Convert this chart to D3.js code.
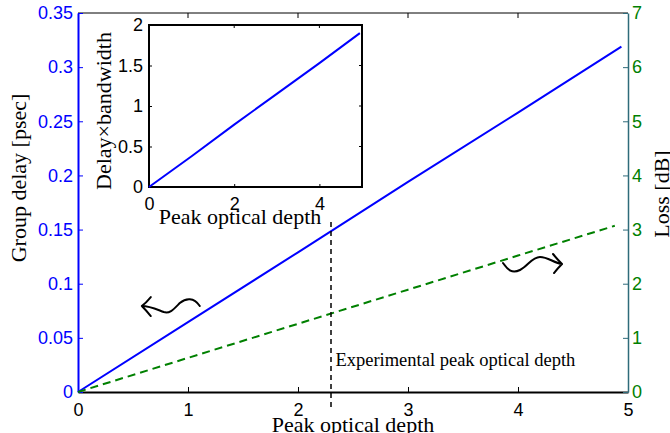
<!DOCTYPE html>
<html>
<head>
<meta charset="utf-8">
<script src="https://cdn.jsdelivr.net/npm/d3@7"></script>
<style>
  body { margin: 0; background: #fff; }
  .tick text { font-family: "Liberation Sans", Arial, sans-serif; font-size: 18px; }
  .lab { font-family: "Liberation Serif", "Times New Roman", serif; font-size: 22px; fill: #000; }
</style>
</head>
<body>
<div id="chart"></div>
<script>
// main curves
const depth = [0, 1, 2, 3, 4, 4.94];
const delay = [0, 0.0645, 0.129, 0.194, 0.258, 0.319];
const lossDepth = [0, 1, 2, 3, 4, 4.88];
const loss = [0, 0.63, 1.26, 1.89, 2.52, 3.07];

// inset
const insetDepth = [0, 1, 2, 3, 4, 4.95];
const insetDB = [0, 0.38, 0.77, 1.15, 1.53, 1.9];

// ticks
const xTicks = [0, 1, 2, 3, 4, 5];
const delayTicks = [0, 0.05, 0.1, 0.15, 0.2, 0.25, 0.3, 0.35];
const lossTicks = [0, 1, 2, 3, 4, 5, 6, 7];
const insetXTicks = [0, 2, 4];
const insetYTicks = [0, 0.5, 1, 1.5, 2];

const expDepth = 2.3;

const W = 670, H = 433;
const svg = d3.select("#chart").append("svg")
  .attr("width", W).attr("height", H);

const x = d3.scaleLinear().domain([0, 5]).range([78, 628]);
const y = d3.scaleLinear().domain([0, 0.35]).range([392, 13]);
const yR = d3.scaleLinear().domain([0, 7]).range([392, 13]);

const blue = "#0000ff", green = "#008000", teal = "#2e6b7a";

// top border
svg.append("line").attr("x1", x(0)).attr("x2", x(5)).attr("y1", y(0.35)).attr("y2", y(0.35))
  .attr("stroke", "#000").attr("stroke-width", 1);
svg.append("g").selectAll("line").data(xTicks.slice(1, -1)).enter().append("line")
  .attr("x1", d => x(d)).attr("x2", d => x(d)).attr("y1", y(0.35)).attr("y2", y(0.35) + 5)
  .attr("stroke", "#000");

// bottom axis
const gx = svg.append("g").attr("transform", "translate(0," + y(0) + ")")
  .call(d3.axisBottom(x).tickValues(xTicks).tickFormat(d => d).tickSizeInner(-5).tickSizeOuter(0).tickPadding(11));
gx.select(".domain").attr("stroke", "#000").attr("stroke-width", 2);
gx.selectAll(".tick line").attr("stroke", "#000");
gx.selectAll(".tick text").attr("fill", "#000");

// left axis
const gy = svg.append("g").attr("transform", "translate(" + x(0) + ",0)")
  .call(d3.axisLeft(y).tickValues(delayTicks).tickFormat(d => String(d)).tickSizeInner(-5).tickSizeOuter(0).tickPadding(5));
gy.select(".domain").attr("stroke", blue).attr("stroke-width", 2);
gy.selectAll(".tick line").attr("stroke", blue);
gy.selectAll(".tick text").attr("fill", blue);

// right axis
const gr = svg.append("g").attr("transform", "translate(" + x(5) + ",0)")
  .call(d3.axisRight(yR).tickValues(lossTicks).tickFormat(d => d).tickSizeInner(-5).tickSizeOuter(0).tickPadding(4));
gr.select(".domain").attr("stroke", teal).attr("stroke-width", 1.5);
gr.selectAll(".tick line").attr("stroke", teal);
gr.selectAll(".tick text").attr("fill", green);

// curves
const lineDelay = d3.line().x((d, i) => x(depth[i])).y(d => y(d));
svg.append("path").datum(delay).attr("d", lineDelay)
  .attr("fill", "none").attr("stroke", blue).attr("stroke-width", 2);

const lineLoss = d3.line().x((d, i) => x(lossDepth[i])).y(d => yR(d));
svg.append("path").datum(loss).attr("d", lineLoss)
  .attr("fill", "none").attr("stroke", green).attr("stroke-width", 2)
  .attr("stroke-dasharray", "8,5");

// experimental depth marker
svg.append("line").attr("x1", x(expDepth)).attr("x2", x(expDepth))
  .attr("y1", y(0.157)).attr("y2", y(-0.015))
  .attr("stroke", "#000").attr("stroke-width", 1.5).attr("stroke-dasharray", "5,4");
svg.append("text").attr("class", "lab").style("font-size", "18.5px")
  .attr("x", x(2.34)).attr("y", y(0.024))
  .text("Experimental peak optical depth");

// wavy arrows
function wavy(px, py, d) {
  svg.append("path").attr("transform", "translate(" + px + "," + py + ")")
    .attr("d", d).attr("fill", "none").attr("stroke", "#000")
    .attr("stroke-width", 2).attr("stroke-linecap", "round").attr("stroke-linejoin", "round");
}
wavy(x(0.58), y(0.0794),
  "M58,0 C52,-9 44,-8 38,-3 C32,3 28,8 22,6 C14,3 8,0 0,0 M9,-9 Q4,-3 0,0 Q4,4 9,10");
wavy(x(4.4), y(0.1182),
  "M-59,-1 C-54,6 -50,10 -42,6 C-34,2 -30,-7 -22,-7 C-14,-7 -8,-1 0,0 M-9,-10 Q-4,-4 0,0 Q-4,4 -8,9");

// axis labels
svg.append("text").attr("class", "lab").attr("text-anchor", "middle")
  .attr("transform", "translate(26,178) rotate(-90)").text("Group delay [psec]");
svg.append("text").attr("class", "lab").attr("text-anchor", "middle")
  .attr("transform", "translate(669,194) rotate(-90)").text("Loss [dB]");
svg.append("text").attr("class", "lab").attr("text-anchor", "middle")
  .attr("x", 353).attr("y", 432).text("Peak optical depth");

// inset
const ix = d3.scaleLinear().domain([0, 5]).range([149, 362]);
const iy = d3.scaleLinear().domain([0, 2]).range([187, 25]);

svg.append("rect").attr("x", ix(0)).attr("y", iy(2))
  .attr("width", ix(5) - ix(0)).attr("height", iy(0) - iy(2))
  .attr("fill", "#fff").attr("stroke", "#000").attr("stroke-width", 2);

const igx = svg.append("g").attr("transform", "translate(0," + iy(0) + ")")
  .call(d3.axisBottom(ix).tickValues(insetXTicks).tickFormat(d => d).tickSizeInner(-3).tickSizeOuter(0).tickPadding(10));
const igy = svg.append("g").attr("transform", "translate(" + ix(0) + ",0)")
  .call(d3.axisLeft(iy).tickValues(insetYTicks).tickFormat(d => String(d)).tickSizeInner(-3).tickSizeOuter(0).tickPadding(6));
[igx, igy].forEach(g => {
  g.select(".domain").attr("stroke", "none");
  g.selectAll(".tick line").attr("stroke", "#000");
  g.selectAll(".tick text").attr("fill", "#000");
});
svg.append("g").selectAll("line").data(insetXTicks.slice(1)).enter().append("line")
  .attr("x1", d => ix(d)).attr("x2", d => ix(d)).attr("y1", iy(2)).attr("y2", iy(2) + 3).attr("stroke", "#000");
svg.append("g").selectAll("line").data(insetYTicks.slice(1, -1)).enter().append("line")
  .attr("x1", ix(5)).attr("x2", ix(5) - 3).attr("y1", d => iy(d)).attr("y2", d => iy(d)).attr("stroke", "#000");

const lineInset = d3.line().x((d, i) => ix(insetDepth[i])).y(d => iy(d));
svg.append("path").datum(insetDB).attr("d", lineInset)
  .attr("fill", "none").attr("stroke", blue).attr("stroke-width", 2);

svg.append("text").attr("class", "lab").attr("text-anchor", "middle")
  .attr("x", 240).attr("y", 224).text("Peak optical depth");
svg.append("text").attr("class", "lab").attr("text-anchor", "middle")
  .attr("transform", "translate(111,111) rotate(-90)").text("Delay\u00d7bandwidth");
</script>
</body>
</html>
